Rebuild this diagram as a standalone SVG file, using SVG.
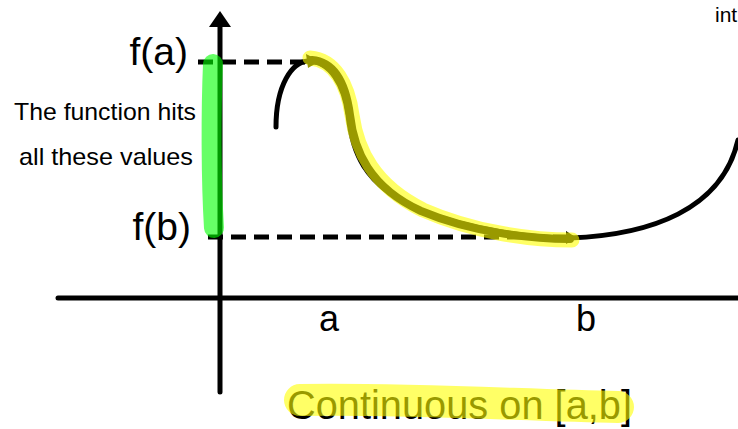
<svg xmlns="http://www.w3.org/2000/svg" width="738" height="429" viewBox="0 0 738 429">
<style>
.ax{stroke:#000;stroke-width:5;stroke-linecap:round;fill:none}
.dash{stroke:#000;stroke-width:5;stroke-dasharray:15 8;fill:none}
.t{font-family:"Liberation Sans",Arial,sans-serif;fill:#000}
</style>
<rect width="738" height="429" fill="#fff"/>
<g id="axes">
<line class="ax" x1="220" y1="24" x2="220" y2="392"/>
<polygon points="220,11 209,27 231,27" fill="#000"/>
<line class="ax" x1="58" y1="298" x2="738" y2="298"/>
</g>
<g id="dashes">
<line class="dash" x1="198" y1="62" x2="306" y2="62"/>
<line class="dash" x1="208" y1="237" x2="572" y2="237"/>
</g>
<g id="curve">
<path class="ax" d="M276,127 C276,85 292,62 308,61 C330,61 344,85 348,115 C352,150 362,185 420,210 C470,230 530,238 570,238 C650,235 722,210 738,140"/>
<polygon points="566,231 577,238 566,244" fill="#000"/>
</g>
<g id="labels">
<text class="t" x="188" y="65" font-size="39" text-anchor="end">f(a)</text>
<text class="t" x="191" y="240" font-size="39" text-anchor="end">f(b)</text>
<text class="t" x="14" y="120" font-size="24" textLength="182" lengthAdjust="spacingAndGlyphs">The function hits</text>
<text class="t" x="19" y="165" font-size="24" textLength="174" lengthAdjust="spacingAndGlyphs">all these values</text>
<text class="t" x="329" y="331" font-size="36" text-anchor="middle">a</text>
<text class="t" x="586" y="331" font-size="36" text-anchor="middle">b</text>
<text class="t" x="287" y="419" font-size="40" textLength="345" lengthAdjust="spacingAndGlyphs">Continuous on [a,b]</text>
<text class="t" x="715" y="22" font-size="21" fill="#333">int</text>
</g>
<g id="highlights">
<path d="M213,64 C211,110 211,180 214,228" stroke="#00ff00" stroke-opacity="0.6" stroke-width="20" stroke-linecap="round" fill="none"/>
<path d="M310,58 C335,60 348,85 352,115 C357,150 373,185 423,210 C473,232 530,240 572,240" stroke="#ffff00" stroke-opacity="0.6" stroke-width="15" stroke-linecap="round" fill="none"/>
<path d="M312,60 C335,62 346,85 350,115 C354,150 369,187 421,211 C471,232 530,239 570,239" stroke="#999900" stroke-width="8" stroke-linecap="round" fill="none"/>
<polygon points="306,54 320,61 308,68" fill="#999900"/>
<path d="M300,400 C400,398 520,405 618,407" stroke="#ffff00" stroke-opacity="0.6" stroke-width="32" stroke-linecap="round" fill="none"/>
</g>
</svg>
